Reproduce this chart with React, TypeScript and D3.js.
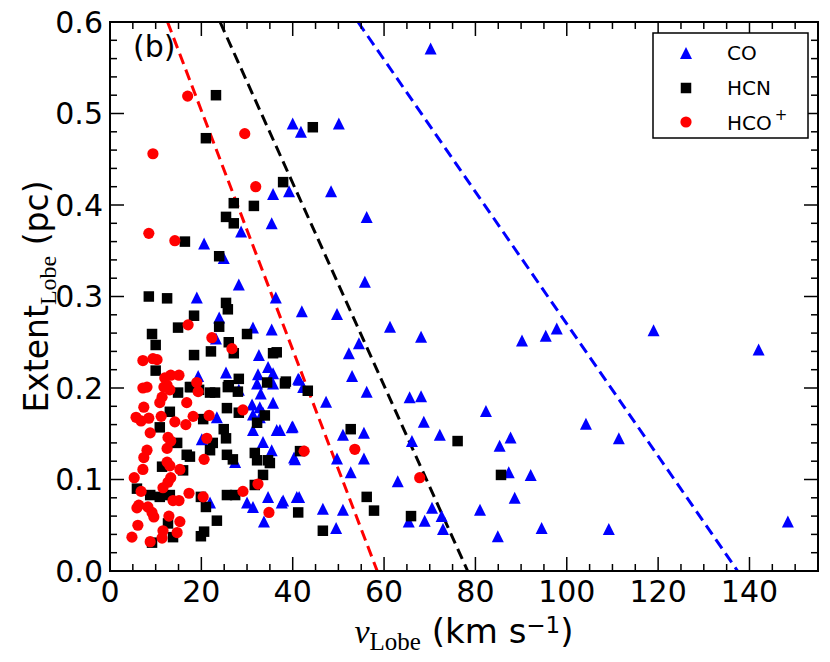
import React from "react";
import * as d3 from "d3";

// CO (blue triangles): [v_Lobe km/s, Extent pc]
const coPoints: [number, number][] = [
  [142.0, 0.242], [148.4, 0.054], [119.0, 0.263], [97.8, 0.265], [95.4, 0.257],
  [90.2, 0.252], [82.3, 0.175], [104.2, 0.161], [111.4, 0.145], [87.7, 0.146],
  [85.3, 0.137], [87.3, 0.108], [92.1, 0.105], [88.6, 0.080], [81.0, 0.067],
  [94.5, 0.047], [109.2, 0.046], [84.9, 0.038], [70.2, 0.571], [40.0, 0.489],
  [41.8, 0.480], [50.1, 0.489], [39.2, 0.415], [48.4, 0.415], [35.7, 0.412],
  [56.2, 0.387], [55.8, 0.316], [42.0, 0.284], [49.7, 0.281], [61.3, 0.267],
  [68.1, 0.256], [54.5, 0.249], [52.3, 0.238], [53.0, 0.213], [41.2, 0.210],
  [42.3, 0.201], [56.2, 0.196], [65.6, 0.190], [68.1, 0.191], [47.3, 0.185],
  [68.7, 0.163], [40.0, 0.158], [37.2, 0.154], [51.0, 0.149], [55.6, 0.151],
  [72.2, 0.149], [66.1, 0.142], [40.5, 0.122], [49.7, 0.123], [55.6, 0.123],
  [52.7, 0.108], [63.0, 0.098], [37.9, 0.077], [41.4, 0.081], [46.6, 0.068],
  [51.0, 0.067], [49.5, 0.047], [70.5, 0.069], [65.4, 0.054], [68.9, 0.055],
  [72.6, 0.060], [72.9, 0.046], [35.4, 0.380], [28.7, 0.371], [20.6, 0.358],
  [24.9, 0.342], [28.2, 0.313], [19.0, 0.299], [36.3, 0.299], [23.9, 0.277],
  [31.3, 0.266], [35.4, 0.264], [23.2, 0.254], [32.6, 0.236], [34.6, 0.223],
  [35.7, 0.216], [32.4, 0.215], [25.4, 0.217], [19.3, 0.213], [41.4, 0.209],
  [32.2, 0.205], [35.7, 0.205], [33.0, 0.194], [31.1, 0.182], [32.8, 0.179],
  [35.7, 0.184], [31.3, 0.171], [32.8, 0.168], [28.2, 0.198], [20.1, 0.144],
  [23.4, 0.168], [33.5, 0.173], [31.3, 0.154], [36.5, 0.154], [39.8, 0.157],
  [33.5, 0.141], [35.4, 0.132], [40.3, 0.124], [27.4, 0.119], [30.0, 0.075],
  [31.3, 0.070], [34.6, 0.081], [37.6, 0.075], [40.9, 0.081], [33.7, 0.054],
  [21.9, 0.075],
];

// HCN (black squares)
const hcnPoints: [number, number][] = [
  [23.2, 0.520], [21.0, 0.473], [44.4, 0.485], [37.9, 0.425], [27.1, 0.402],
  [31.5, 0.399], [25.4, 0.387], [27.1, 0.380], [16.4, 0.360], [23.9, 0.344],
  [8.5, 0.300], [12.5, 0.298], [25.4, 0.293], [25.8, 0.286], [18.4, 0.279],
  [14.9, 0.266], [23.9, 0.267], [9.2, 0.259], [30.0, 0.259], [10.0, 0.247],
  [26.0, 0.250], [27.1, 0.238], [18.4, 0.236], [22.1, 0.240], [10.0, 0.219],
  [28.2, 0.210], [34.4, 0.206], [38.5, 0.207], [26.0, 0.203], [35.7, 0.238],
  [36.5, 0.239], [38.3, 0.205], [43.3, 0.197], [52.7, 0.155], [76.1, 0.142],
  [41.6, 0.131], [41.2, 0.064], [46.6, 0.044], [56.2, 0.081], [57.8, 0.066],
  [65.9, 0.060], [85.6, 0.105], [25.8, 0.201], [28.0, 0.196], [21.9, 0.195],
  [23.0, 0.195], [19.5, 0.198], [17.7, 0.201], [14.9, 0.195], [25.6, 0.178],
  [33.9, 0.170], [28.2, 0.173], [13.1, 0.174], [20.4, 0.166], [10.9, 0.157],
  [24.9, 0.155], [32.2, 0.162], [25.4, 0.145], [14.7, 0.140], [21.9, 0.132],
  [22.5, 0.140], [16.8, 0.127], [17.5, 0.125], [25.6, 0.127], [26.9, 0.122],
  [31.7, 0.129], [32.2, 0.121], [34.6, 0.121], [35.0, 0.118], [11.4, 0.114],
  [16.0, 0.110], [33.5, 0.105], [31.7, 0.094], [5.9, 0.090], [8.8, 0.083],
  [10.9, 0.081], [13.1, 0.083], [19.9, 0.081], [21.0, 0.070], [25.6, 0.083],
  [27.4, 0.083], [23.4, 0.055], [12.7, 0.052], [20.6, 0.043], [19.9, 0.038],
  [13.8, 0.037], [9.2, 0.031], [17.5, 0.201],
];

// HCO+ (red circles)
const hcopPoints: [number, number][] = [
  [17.0, 0.519], [9.4, 0.456], [29.5, 0.478], [31.9, 0.420], [8.5, 0.369],
  [14.2, 0.361], [17.1, 0.269], [22.3, 0.255], [26.7, 0.243], [7.2, 0.230],
  [9.4, 0.232], [10.3, 0.231], [12.0, 0.211], [13.3, 0.214], [15.1, 0.214],
  [19.0, 0.206], [19.3, 0.196], [13.1, 0.198], [16.8, 0.184], [18.2, 0.169],
  [21.7, 0.170], [29.1, 0.176], [42.5, 0.131], [53.6, 0.133], [67.8, 0.102],
  [7.2, 0.200], [8.1, 0.201], [11.8, 0.201], [12.5, 0.203], [11.4, 0.190],
  [10.9, 0.184], [7.4, 0.179], [5.7, 0.168], [6.8, 0.164], [8.5, 0.167],
  [11.2, 0.169], [14.2, 0.163], [16.6, 0.160], [8.8, 0.151], [12.7, 0.146],
  [13.3, 0.142], [21.2, 0.145], [8.1, 0.132], [7.4, 0.124], [12.5, 0.134],
  [20.6, 0.122], [7.2, 0.111], [5.3, 0.102], [12.5, 0.119], [13.1, 0.115],
  [15.3, 0.111], [13.3, 0.102], [12.7, 0.097], [11.6, 0.091], [6.8, 0.087],
  [17.3, 0.085], [20.4, 0.081], [29.1, 0.087], [32.4, 0.095], [34.8, 0.064],
  [13.8, 0.077], [15.1, 0.077], [6.3, 0.072], [5.9, 0.069], [8.3, 0.070],
  [9.2, 0.064], [9.6, 0.059], [12.9, 0.060], [15.3, 0.054], [6.1, 0.050],
  [11.6, 0.044], [4.8, 0.037], [8.8, 0.032], [11.4, 0.036], [14.7, 0.042],
];

// dashed limit lines (end points in data units)
const redLine: [number, number][] = [[12.6, 0.6], [58.5, 0]];
const blackLine: [number, number][] = [[24.1, 0.6], [78.3, 0]];
const blueLine: [number, number][] = [[54.3, 0.6], [137.4, 0]];

const xTicks = [0, 20, 40, 60, 80, 100, 120, 140];
const yTicks = [0, 0.1, 0.2, 0.3, 0.4, 0.5, 0.6];
const yTickLabels = ["0.0", "0.1", "0.2", "0.3", "0.4", "0.5", "0.6"];

const SANS = "'DejaVu Sans', sans-serif";
const SERIF = "'Liberation Serif', 'DejaVu Serif', serif";

const tri = (s: number) => `M0,${-s / 2}L${s / 2},${s / 2}L${-s / 2},${s / 2}Z`;

export default function App() {
  const width = 830;
  const height = 662;
  const margin = { top: 22, right: 12, bottom: 91, left: 110 };

  const x = d3.scaleLinear().domain([0, 155]).range([margin.left, width - margin.right]);
  const y = d3.scaleLinear().domain([0, 0.6]).range([height - margin.bottom, margin.top]);
  const x0 = x.range()[0], x1 = x.range()[1];
  const y0 = y.range()[0], y1 = y.range()[1];

  const line = d3.line<[number, number]>().x((d) => x(d[0])).y((d) => y(d[1]));

  const xMinor = d3.range(0, 156, 5).filter((v) => v % 20 !== 0);
  const yMinor = d3.range(0, 31).map((i) => i * 0.02).filter((_, i) => i % 5 !== 0);

  const major = 14;
  const minor = 7;
  const sq = 10.5;

  return (
    <svg
      width={width}
      height={height}
      style={{ position: "absolute", left: 0, top: 0, background: "#fff" }}
    >
      {/* limit lines */}
      <path d={line(redLine) || ""} stroke="#ff0000" strokeWidth={3} strokeDasharray="11,6" fill="none" />
      <path d={line(blackLine) || ""} stroke="#000" strokeWidth={3} strokeDasharray="11,6" fill="none" />
      <path d={line(blueLine) || ""} stroke="#0000ff" strokeWidth={3} strokeDasharray="11,6" fill="none" />

      {/* CO */}
      <g fill="#0000ff">
        {coPoints.map((d, i) => (
          <path key={i} d={tri(12)} transform={`translate(${x(d[0])},${y(d[1])})`} />
        ))}
      </g>
      {/* HCN */}
      <g fill="#000">
        {hcnPoints.map((d, i) => (
          <rect key={i} x={x(d[0]) - sq / 2} y={y(d[1]) - sq / 2} width={sq} height={sq} />
        ))}
      </g>
      {/* HCO+ */}
      <g fill="#ff0000">
        {hcopPoints.map((d, i) => (
          <circle key={i} cx={x(d[0])} cy={y(d[1])} r={5.6} />
        ))}
      </g>

      {/* ticks */}
      <g stroke="#000" strokeWidth={1.5}>
        {xTicks.map((t) => (
          <g key={"xt" + t}>
            <line x1={x(t)} x2={x(t)} y1={y0} y2={y0 - major} />
            <line x1={x(t)} x2={x(t)} y1={y1} y2={y1 + major} />
          </g>
        ))}
        {xMinor.map((t) => (
          <g key={"xm" + t}>
            <line x1={x(t)} x2={x(t)} y1={y0} y2={y0 - minor} />
            <line x1={x(t)} x2={x(t)} y1={y1} y2={y1 + minor} />
          </g>
        ))}
        {yTicks.map((t) => (
          <g key={"yt" + t}>
            <line x1={x0} x2={x0 + major} y1={y(t)} y2={y(t)} />
            <line x1={x1} x2={x1 - major} y1={y(t)} y2={y(t)} />
          </g>
        ))}
        {yMinor.map((t) => (
          <g key={"ym" + t}>
            <line x1={x0} x2={x0 + minor} y1={y(t)} y2={y(t)} />
            <line x1={x1} x2={x1 - minor} y1={y(t)} y2={y(t)} />
          </g>
        ))}
      </g>

      {/* frame */}
      <rect x={x0} y={y1} width={x1 - x0} height={y0 - y1} fill="none" stroke="#000" strokeWidth={2} />

      {/* tick labels */}
      <g fontFamily={SANS} fontSize={30} fill="#000">
        {xTicks.map((t) => (
          <text key={"xl" + t} x={x(t)} y={y0 + 31} textAnchor="middle">{t}</text>
        ))}
        {yTicks.map((t, i) => (
          <text key={"yl" + t} x={x0 - 7} y={y(t)} dy="0.36em" textAnchor="end">{yTickLabels[i]}</text>
        ))}
      </g>

      {/* panel label */}
      <text x={133} y={57} fontFamily={SANS} fontSize={30}>(b)</text>

      {/* x label */}
      <text x={(x0 + x1) / 2} y={643} textAnchor="middle" fontFamily={SANS} fontSize={34}>
        <tspan fontFamily={SERIF} fontStyle="italic">v</tspan>
        <tspan fontFamily={SERIF} fontSize={25} dy={7}>Lobe</tspan>
        <tspan dy={-7}> (km s</tspan>
        <tspan fontSize={23} dy={-10}>−1</tspan>
        <tspan dy={10}>)</tspan>
      </text>

      {/* y label */}
      <text
        transform={`translate(48,${(y0 + y1) / 2}) rotate(-90)`}
        textAnchor="middle"
        fontFamily={SANS}
        fontSize={33}
      >
        <tspan>Extent</tspan>
        <tspan fontFamily={SERIF} fontSize={24} dy={8}>Lobe</tspan>
        <tspan dy={-8}> (pc)</tspan>
      </text>

      {/* legend */}
      <g>
        <rect x={653} y={33} width={155} height={105} fill="#fff" stroke="#000" strokeWidth={1.5} />
        <path d={tri(12)} transform="translate(686,53)" fill="#0000ff" />
        <rect x={686 - sq / 2} y={88 - sq / 2} width={sq} height={sq} fill="#000" />
        <circle cx={686} cy={122} r={5.6} fill="#ff0000" />
        <g fontFamily={SANS} fontSize={20} fill="#000">
          <text x={727} y={60}>CO</text>
          <text x={727} y={95}>HCN</text>
          <text x={727} y={130}>
            HCO<tspan fontSize={15} dy={-10} dx={3}>+</tspan>
          </text>
        </g>
      </g>
    </svg>
  );
}
